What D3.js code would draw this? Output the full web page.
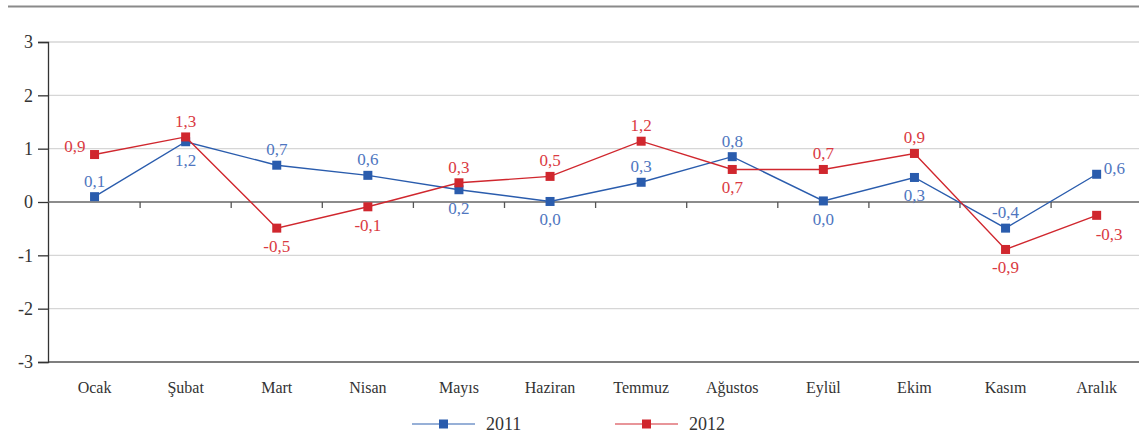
<!DOCTYPE html>
<html>
<head>
<meta charset="utf-8">
<script src="https://cdn.jsdelivr.net/npm/d3@7"></script>
<style>
  body { margin: 0; background: #fff; }
  svg { display: block; }
  text { font-family: "Liberation Serif", "DejaVu Serif", serif; }
</style>
</head>
<body>
<script>
// months
const months = ['Ocak', 'Şubat', 'Mart', 'Nisan', 'Mayıs', 'Haziran', 'Temmuz', 'Ağustos', 'Eylül', 'Ekim', 'Kasım', 'Aralık']

// plotted values
const values2011 = [0.1, 1.13, 0.69, 0.5, 0.23, 0.01, 0.37, 0.85, 0.02, 0.46, -0.49, 0.52]
const values2012 = [0.89, 1.22, -0.49, -0.09, 0.36, 0.48, 1.14, 0.61, 0.61, 0.91, -0.89, -0.25]

// printed labels
const labels2011 = ['0,1', '1,2', '0,7', '0,6', '0,2', '0,0', '0,3', '0,8', '0,0', '0,3', '-0,4', '0,6']
const labels2012 = ['0,9', '1,3', '-0,5', '-0,1', '0,3', '0,5', '1,2', '0,7', '0,7', '0,9', '-0,9', '-0,3']

// which side of the marker each label sits on
const side2011 = ['t', 'b', 't', 't', 'b', 'b', 't', 't', 'b', 'b', 't', 'r']
const side2012 = ['l', 't', 'b', 'b', 't', 't', 't', 'b', 't', 't', 'b', 'br']

const yTicks = [-3, -2, -1, 0, 1, 2, 3]

const w = 1139
const h = 439

const svg = d3.select('body')
    .append('svg')
    .attr('width', w)
    .attr('height', h)

// x band scale, one band per month
const xScale = d3.scaleBand()
    .domain(months)
    .range([49, 49 + 12 * 91.1])
    .padding(0)

const yScale = d3.scaleLinear()
    .domain([-3, 3])
    .range([362, 42])

const cx = d => xScale(d) + xScale.bandwidth() / 2

// top rule
svg.append('line')
    .attr('x1', 8).attr('x2', w)
    .attr('y1', 6.5).attr('y2', 6.5)
    .style('stroke', '#8a8a8a')
    .style('stroke-width', 2)

// grid lines
svg.append('g')
    .selectAll('line')
    .data(yTicks.filter(t => t !== 0 && t !== -3))
    .enter()
    .append('line')
    .attr('x1', 48).attr('x2', w)
    .attr('y1', d => yScale(d)).attr('y2', d => yScale(d))
    .style('stroke', '#d6d6d6')
    .style('stroke-width', 1.3)

// bottom line at -3
svg.append('line')
    .attr('x1', 48).attr('x2', w)
    .attr('y1', yScale(-3)).attr('y2', yScale(-3))
    .style('stroke', '#555')
    .style('stroke-width', 1.3)

// y axis
const yAxis = d3.axisLeft(yScale)
    .tickValues(yTicks)
    .tickSize(10)
    .tickPadding(5)
    .tickFormat(d => String(d))

const gy = svg.append('g')
    .attr('transform', 'translate(48,0)')
    .call(yAxis)
gy.select('.domain').style('stroke', '#333').style('stroke-width', 1.3)
gy.selectAll('.tick line').style('stroke', '#333').style('stroke-width', 1.3)
gy.selectAll('text')
    .style('font-family', '"Liberation Serif", serif')
    .style('font-size', '18px')
    .style('fill', '#333')

// x axis along zero
const boundaries = months.slice(1)
svg.append('line')
    .attr('x1', 48).attr('x2', w)
    .attr('y1', yScale(0)).attr('y2', yScale(0))
    .style('stroke', '#666')
    .style('stroke-width', 1.5)

svg.append('g')
    .selectAll('line')
    .data(boundaries)
    .enter()
    .append('line')
    .attr('x1', d => xScale(d)).attr('x2', d => xScale(d))
    .attr('y1', yScale(0)).attr('y2', yScale(0) + 6)
    .style('stroke', '#555')
    .style('stroke-width', 1.3)

// month labels
svg.append('g')
    .selectAll('text')
    .data(months)
    .enter()
    .append('text')
    .attr('x', d => cx(d))
    .attr('y', 393)
    .attr('text-anchor', 'middle')
    .style('font-size', '16px')
    .style('fill', '#333')
    .text(d => d)

const series = [
    { name: '2011', values: values2011, labels: labels2011, side: side2011, color: '#2a5cad', text: '#4f76c0' },
    { name: '2012', values: values2012, labels: labels2012, side: side2012, color: '#d0272e', text: '#da3a42' }
]

const line = d3.line()
    .x((d, i) => cx(months[i]))
    .y(d => yScale(d))

// offsets for label sides
const offsets = {
    t: [0, -10, 'middle'],
    b: [0, 24, 'middle'],
    l: [-9, -3, 'end'],
    r: [7, 0, 'start'],
    br: [-1, 25, 'start']
}

series.forEach(s => {
    svg.append('path')
        .datum(s.values)
        .attr('d', line)
        .style('fill', 'none')
        .style('stroke', s.color)
        .style('stroke-width', 1.4)

    svg.append('g')
        .selectAll('rect')
        .data(s.values)
        .enter()
        .append('rect')
        .attr('x', (d, i) => cx(months[i]) - 4.5)
        .attr('y', d => yScale(d) - 4.5)
        .attr('width', 9)
        .attr('height', 9)
        .style('fill', s.color)

    svg.append('g')
        .selectAll('text')
        .data(s.values)
        .enter()
        .append('text')
        .attr('x', (d, i) => cx(months[i]) + offsets[s.side[i]][0])
        .attr('y', d => yScale(d))
        .attr('dy', (d, i) => offsets[s.side[i]][1])
        .attr('text-anchor', (d, i) => offsets[s.side[i]][2])
        .style('font-size', '17px')
        .style('fill', s.text)
        .text((d, i) => s.labels[i])
})

// legend
const legendX = [412, 615]
series.forEach((s, i) => {
    const x0 = legendX[i]
    svg.append('line')
        .attr('x1', x0).attr('x2', x0 + 63)
        .attr('y1', 424).attr('y2', 424)
        .style('stroke', s.color)
        .style('stroke-opacity', 0.65)
        .style('stroke-width', 1.5)
    svg.append('rect')
        .attr('x', x0 + 27).attr('y', 419.5)
        .attr('width', 9).attr('height', 9)
        .style('fill', s.color)
    svg.append('text')
        .attr('x', x0 + 74)
        .attr('y', 430)
        .style('font-size', '18px')
        .style('fill', '#333')
        .text(s.name)
})
</script>
</body>
</html>
